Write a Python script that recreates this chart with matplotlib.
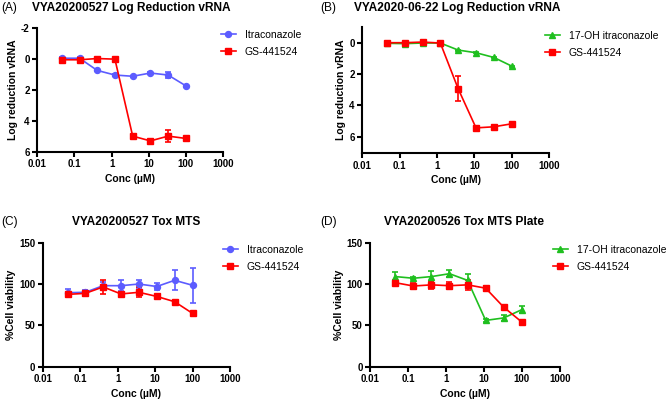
import matplotlib
matplotlib.use("Agg")
import matplotlib.pyplot as plt
import numpy as np

plt.rcParams['font.family'] = ['Liberation Sans', 'DejaVu Sans']

conc = [0.046, 0.137, 0.41, 1.23, 3.7, 11.1, 33.3, 100]

# Panel A
a_itra = [-0.06, -0.06, 0.73, 1.03, 1.11, 0.90, 1.03, 1.73]
a_itra_err = [0.05, 0.05, 0.05, 0.05, 0.05, 0.05, 0.22, 0.05]
a_gs = [0.04, 0.04, -0.04, 0.0, 4.99, 5.30, 4.99, 5.14]
a_gs_err = [0.05, 0.05, 0.05, 0.05, 0.05, 0.05, 0.40, 0.05]

# Panel B
b_oh = [0.04, 0.06, 0.02, 0.02, 0.47, 0.64, 0.94, 1.49]
b_oh_err = [0.03, 0.03, 0.03, 0.03, 0.03, 0.03, 0.03, 0.03]
b_gs = [0.0, 0.0, -0.04, 0.02, 2.94, 5.43, 5.36, 5.17]
b_gs_err = [0.05, 0.05, 0.05, 0.05, 0.80, 0.1, 0.05, 0.05]

# Panel C
c_itra = [89.5, 90.0, 98.0, 98.0, 100.0, 97.0, 104.5, 98.5]
c_itra_err = [4, 3, 4, 7, 5, 4, 12, 21]
c_gs = [87.5, 88.7, 96.5, 88.0, 90.0, 85.0, 78.6, 64.5]
c_gs_err = [2, 3, 8.5, 2, 6, 1.5, 1.5, 1.5]

# Panel D
d_oh = [109.0, 107.0, 109.0, 112.5, 104.4, 56.0, 59.0, 69.0]
d_oh_err = [5, 1.5, 7, 4, 8, 1.5, 4, 4]
d_gs = [101.6, 97.6, 99.0, 98.0, 99.0, 95.0, 72.0, 54.0]
d_gs_err = [3, 4, 5, 4, 6, 3, 2, 1.5]

BLUE = '#5c5cff'
RED = '#ff0000'
GREEN = '#1fbf1f'

fig = plt.figure(figsize=(6.67, 4.0), dpi=100)
W, H = 667.0, 400.0

def make_ax(x0, x1, ytop, ybot):
    return fig.add_axes([x0 / W, 1 - ybot / H, (x1 - x0) / W, (ybot - ytop) / H])

def style(ax, ylim, yticks, ylabel):
    ax.set_xscale('log')
    ax.set_xlim(0.01, 1000)
    ax.set_ylim(*ylim)
    ax.set_yticks(yticks)
    ax.set_xticks([0.01, 0.1, 1, 10, 100, 1000])
    ax.set_xticklabels(['0.01', '0.1', '1', '10', '100', '1000'])
    ax.xaxis.set_minor_locator(matplotlib.ticker.NullLocator())
    ax.set_yticklabels([str(t) for t in yticks])
    for s in ['top', 'right']:
        ax.spines[s].set_visible(False)
    for s in ['left', 'bottom']:
        ax.spines[s].set_linewidth(1.5)
    ax.tick_params(width=1.5, length=3.5, labelsize=7, direction='out', pad=2)
    for lab in ax.get_xticklabels() + ax.get_yticklabels():
        lab.set_fontweight('bold')
    ax.set_xlabel('Conc (µM)', fontsize=7.5, fontweight='bold', labelpad=3)
    ax.set_ylabel(ylabel, fontsize=7.5, fontweight='bold', labelpad=2)
    ax.patch.set_alpha(0)

def series(ax, y, err, color, marker, label, ms):
    ax.errorbar(conc, y, yerr=err, color=color, marker=marker, ms=ms, lw=1.2,
                capsize=2.5, elinewidth=1.2, capthick=1.2, label=label, clip_on=False)

def legend(ax, x, y):
    handles, labels = ax.get_legend_handles_labels()
    handles = [h[0] for h in handles]
    ax.legend(handles, labels, loc='upper left', bbox_to_anchor=(x / W, 1 - y / H),
              bbox_transform=fig.transFigure,
              frameon=False, fontsize=7.5, handlelength=1.4, handletextpad=0.9,
              labelspacing=0.65, borderpad=0, borderaxespad=0)

# A
axA = make_ax(37.3, 223, 28.3, 151.7)
series(axA, a_itra, a_itra_err, BLUE, 'o', 'Itraconazole', 4.3)
series(axA, a_gs, a_gs_err, RED, 's', 'GS-441524', 4.3)
style(axA, (6, -2), [-2, 0, 2, 4, 6], 'Log reduction vRNA')
legend(axA, 221, 30)
fig.text(131.5 / W, 1 - 8 / H, 'VYA20200527 Log Reduction vRNA', ha='center', va='center',
         fontsize=8.6, fontweight='bold')
fig.text(1 / W, 1 - 8 / H, '(A)', ha='left', va='center', fontsize=8.6)

# B
axB = make_ax(362.3, 549, 26.7, 153.3)
series(axB, b_oh, b_oh_err, GREEN, '^', '17-OH itraconazole', 4.3)
series(axB, b_gs, b_gs_err, RED, 's', 'GS-441524', 4.3)
style(axB, (7.05, -1.02), [0, 2, 4, 6], 'Log reduction vRNA')
legend(axB, 545, 31)
fig.text(457 / W, 1 - 8 / H, 'VYA2020-06-22 Log Reduction vRNA', ha='center', va='center',
         fontsize=8.6, fontweight='bold')
fig.text(320 / W, 1 - 8 / H, '(B)', ha='left', va='center', fontsize=8.6)

# C
axC = make_ax(42.7, 230, 242.7, 366.7)
series(axC, c_itra, c_itra_err, BLUE, 'o', 'Itraconazole', 4.3)
series(axC, c_gs, c_gs_err, RED, 's', 'GS-441524', 4.3)
style(axC, (0, 150), [0, 50, 100, 150], '%Cell viability')
legend(axC, 223, 245)
fig.text(136.5 / W, 1 - 222 / H, 'VYA20200527 Tox MTS', ha='center', va='center',
         fontsize=8.6, fontweight='bold')
fig.text(1 / W, 1 - 222 / H, '(C)', ha='left', va='center', fontsize=8.6)

# D
axD = make_ax(370.3, 559.7, 242.7, 366.7)
series(axD, d_oh, d_oh_err, GREEN, '^', '17-OH itraconazole', 4.3)
series(axD, d_gs, d_gs_err, RED, 's', 'GS-441524', 4.3)
style(axD, (0, 150), [0, 50, 100, 150], '%Cell viability')
legend(axD, 553, 245)
fig.text(464.5 / W, 1 - 222 / H, 'VYA20200526 Tox MTS Plate', ha='center', va='center',
         fontsize=8.6, fontweight='bold')
fig.text(320 / W, 1 - 222 / H, '(D)', ha='left', va='center', fontsize=8.6)

fig.savefig('out.png', dpi=100)
